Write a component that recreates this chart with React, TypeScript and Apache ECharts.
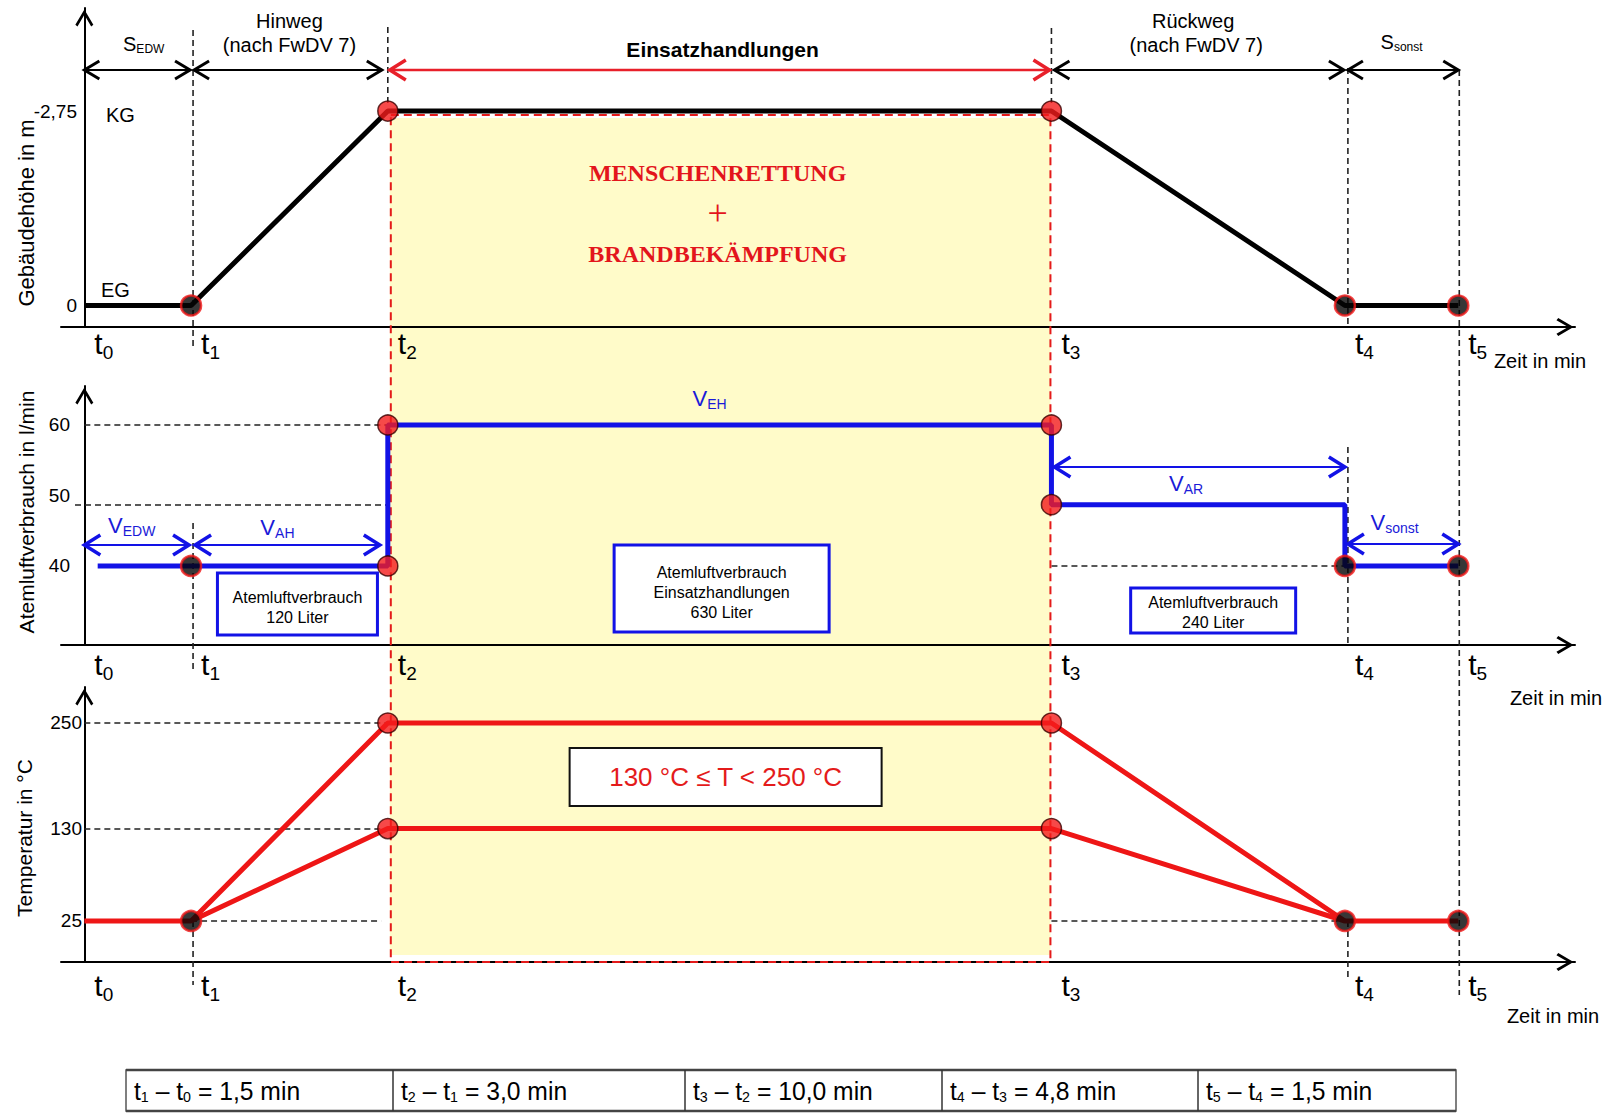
import React, { useEffect, useRef } from 'react';
import * as echarts from 'echarts';

// ---------------- data ----------------
const timeIndices = [0, 1, 2, 3, 4, 5];
const timePoints = [0, 1.6, 4.55, 14.5, 18.9, 20.6];
const dotKinds = ['none', 'black', 'red', 'red', 'black', 'black'];

const heightLevels = [0, 0, -2.75, -2.75, 0, 0];
const heightTicks = [-2.75, 0];

const airStart = 0.2;
const airPhaseLevels = [40, 40, 60, 48.7, 40];
const airPhaseNames = ['EDW', 'AH', 'EH', 'AR', 'sonst'];
const airTicks = [40, 50, 60];
const airDots = [[1, 40], [2, 40], [2, 60], [3, 60], [3, 48.7], [4, 40], [5, 40]];
const airVolumes = ['120', '630', '240'];

const tempUpper = [25, 25, 250, 250, 25, 25];
const tempLower = [25, 25, 130, 130, 25, 25];
const tempTicks = [25, 130, 250];

const durationTexts = ['1,5', '3,0', '10,0', '4,8', '1,5'];

// ---------------- styling ----------------
const W = 1613;
const H = 1113;
const FONT = "'Liberation Sans', Arial, Helvetica, sans-serif";
const SERIF = "'Liberation Serif', 'Times New Roman', serif";
const RED = '#EE1616';
const BLUE = '#1212E6';
const YELLOW = '#FFFBC9';
const ARROW = 'path://M10,0 L20,17 L17.6,19 L10,6 L2.4,19 L0,17 Z';

const X_MIN = -0.35;
const X_MAX = 22.35;
const grids = [
  { left: 61, top: 8, width: 1514, height: 319 },
  { left: 61, top: 386, width: 1514, height: 259 },
  { left: 61, top: 687, width: 1514, height: 275 },
];
const yRanges = [
  { min: -4.207, max: 0.304, inverse: true },
  { min: 28.79, max: 65.53, inverse: false },
  { min: -21.6, max: 290.9, inverse: false },
];
const yTicks = [heightTicks, airTicks, tempTicks];
const yLabelMargins = [-16, -9, -21];

const dotStyle = (kind: string) =>
  kind === 'red'
    ? { color: '#F41C1C', borderColor: '#3A0000', borderWidth: 1.5 }
    : { color: '#050505', borderColor: '#F01818', borderWidth: 2.5 };

function buildOption(): any {
  const xAxis = grids.map((_, i) => ({
    type: 'value',
    gridIndex: i,
    min: X_MIN,
    max: X_MAX,
    axisLine: {
      show: true,
      onZero: false,
      lineStyle: { color: '#000', width: 2 },
      symbol: ['none', ARROW],
      symbolSize: [18, 20],
      symbolOffset: [0, -10],
    },
    axisTick: { show: false },
    axisLabel: { show: false },
    splitLine: { show: false },
  }));
  const yAxis = grids.map((_, i) => ({
    type: 'value',
    gridIndex: i,
    min: yRanges[i].min,
    max: yRanges[i].max,
    inverse: yRanges[i].inverse,
    axisLine: {
      show: true,
      onZero: true,
      lineStyle: { color: '#000', width: 2 },
      symbol: ['none', ARROW],
      symbolSize: [18, 20],
      symbolOffset: [0, -10],
    },
    axisTick: { show: false },
    axisLabel: {
      show: true,
      customValues: yTicks[i],
      formatter: (v: number) => String(v).replace('.', ','),
      color: '#000',
      fontSize: 19,
      fontFamily: FONT,
      margin: yLabelMargins[i],
    },
    splitLine: { show: false },
  }));

  const T = timePoints;
  // top panel
  const heightLine = T.map((t, i) => [t, heightLevels[i]]);
  const heightDots = timeIndices
    .filter((i) => dotKinds[i] !== 'none')
    .map((i) => ({ value: [T[i], heightLevels[i]], itemStyle: dotStyle(dotKinds[i]) }));

  // middle panel (step profile)
  const airLine: number[][] = [[airStart, airPhaseLevels[0]]];
  airPhaseLevels.forEach((lv, p) => {
    airLine.push([T[p + 1], lv]);
    if (p + 1 < airPhaseLevels.length) airLine.push([T[p + 1], airPhaseLevels[p + 1]]);
  });
  const airDotData = airDots.map(([k, v]) => ({ value: [T[k], v], itemStyle: dotStyle(dotKinds[k]) }));

  // bottom panel
  const upperLine = T.map((t, i) => [t, tempUpper[i]]);
  const lowerLine = [1, 2, 3, 4].map((i) => [T[i], tempLower[i]]);
  const tempDotData: any[] = [];
  timeIndices.forEach((i) => {
    if (dotKinds[i] === 'none') return;
    tempDotData.push({ value: [T[i], tempUpper[i]], itemStyle: dotStyle(dotKinds[i]) });
    if (tempLower[i] !== tempUpper[i])
      tempDotData.push({ value: [T[i], tempLower[i]], itemStyle: dotStyle(dotKinds[i]) });
  });

  const guide = (g: number, segs: number[][][]) => ({
    type: 'lines',
    coordinateSystem: 'cartesian2d',
    xAxisIndex: g,
    yAxisIndex: g,
    silent: true,
    z: 1,
    lineStyle: { color: '#222', width: 1.6, type: [6, 4], opacity: 1 },
    data: segs.map((c) => ({ coords: c })),
  });

  const lineS = (g: number, data: any[], color: string) => ({
    type: 'line',
    xAxisIndex: g,
    yAxisIndex: g,
    data,
    showSymbol: false,
    symbol: 'none',
    lineStyle: { color, width: 5 },
    silent: true,
    z: 2,
  });
  const dotS = (g: number, data: any[]) => ({
    type: 'scatter',
    xAxisIndex: g,
    yAxisIndex: g,
    data,
    symbol: 'circle',
    symbolSize: 20,
    silent: true,
    z: 4,
  });

  return {
    animation: false,
    backgroundColor: '#ffffff',
    grid: grids.map((g) => ({ ...g, containLabel: false })),
    xAxis,
    yAxis,
    series: [
      lineS(0, heightLine, '#000'),
      dotS(0, heightDots),
      guide(1, [
        [[0, airPhaseLevels[2]], [T[2], airPhaseLevels[2]]],
        [[-0.14, airPhaseLevels[3]], [T[2], airPhaseLevels[3]]],
        [[T[3], airPhaseLevels[4]], [T[4], airPhaseLevels[4]]],
      ]),
      lineS(1, airLine, BLUE),
      dotS(1, airDotData),
      guide(2, [
        [[0, tempUpper[2]], [T[2], tempUpper[2]]],
        [[0, tempLower[2]], [T[2], tempLower[2]]],
        [[T[1], tempUpper[1]], [T[2] - 0.1, tempUpper[1]]],
        [[T[3], tempUpper[4]], [T[4], tempUpper[4]]],
      ]),
      lineS(2, upperLine, RED),
      lineS(2, lowerLine, RED),
      dotS(2, tempDotData),
    ],
  };
}

// ---------------- graphics helpers ----------------
let measureCtx: CanvasRenderingContext2D | null = null;
function measure(text: string, size: number, family = FONT, weight = 'normal') {
  if (!measureCtx) measureCtx = document.createElement('canvas').getContext('2d');
  measureCtx!.font = `${weight} ${size}px ${family}`;
  return measureCtx!.measureText(text).width;
}

function textStyle(text: string, size: number, color: string, align: string, family = FONT, weight = 'normal') {
  return {
    text,
    fontSize: size,
    fontFamily: family,
    fontWeight: weight,
    fill: color,
    align,
    verticalAlign: 'middle',
    textAlign: align,
    textVerticalAlign: 'middle',
  };
}

function txt(x: number, y: number, text: string, size: number, o: any = {}) {
  return {
    type: 'text',
    x,
    y,
    rotation: o.rotation || 0,
    scaleX: o.scaleX ?? 1,
    z: o.z ?? 6,
    silent: true,
    style: textStyle(text, size, o.color || '#000', o.align || 'center', o.family || FONT, o.weight || 'normal'),
  };
}

type Part = [string, boolean];
function richLabel(x: number, y: number, parts: Part[], size: number, subSize: number, subDy: number, color: string, align = 'center', scaleX = 1) {
  const children: any[] = [];
  let cx = 0;
  parts.forEach(([text, sub]) => {
    const fs = sub ? subSize : size;
    children.push({ type: 'text', x: cx, y: sub ? subDy : 0, z: 6, silent: true, style: textStyle(text, fs, color, 'left') });
    cx += measure(text, fs);
  });
  const shift = align === 'center' ? -cx / 2 : 0;
  children.forEach((c) => (c.x += shift));
  return { type: 'group', x, y, scaleX, children, silent: true };
}

function dblArrow(x1: number, x2: number, y: number, color: string, lw: number, head: number, half: number, hw: number) {
  return [
    { type: 'line', z: 5, silent: true, shape: { x1, y1: y, x2, y2: y }, style: { stroke: color, lineWidth: lw } },
    {
      type: 'polyline', z: 5, silent: true,
      shape: { points: [[x1 + head, y - half], [x1, y], [x1 + head, y + half]] },
      style: { stroke: color, lineWidth: hw, fill: 'none', lineJoin: 'miter' },
    },
    {
      type: 'polyline', z: 5, silent: true,
      shape: { points: [[x2 - head, y - half], [x2, y], [x2 - head, y + half]] },
      style: { stroke: color, lineWidth: hw, fill: 'none', lineJoin: 'miter' },
    },
  ];
}

function box(cx: number, y1: number, y2: number, w: number, stroke: string, lw: number) {
  return {
    type: 'rect', z: 6, silent: true,
    shape: { x: cx - w / 2, y: y1, width: w, height: y2 - y1 },
    style: { fill: '#fff', stroke, lineWidth: lw },
  };
}

function buildGraphics(chart: any): any[] {
  const X = timePoints.map((t) => chart.convertToPixel({ gridIndex: 0 }, [t, 0])[0]);
  const Ytop = (v: number) => chart.convertToPixel({ gridIndex: 0 }, [0, v])[1];
  const mid = (a: number, b: number) => (X[a] + X[b]) / 2;
  const els: any[] = [];

  // Einsatz region
  els.push({
    type: 'rect', z: -10, silent: true,
    shape: { x: X[2] + 2, y: 118, width: X[3] - X[2] - 3, height: 955 - 118 },
    style: { fill: YELLOW },
  });
  els.push({
    type: 'rect', z: 1, silent: true,
    shape: { x: X[2] + 3, y: 115, width: X[3] - X[2] - 4, height: 962 - 115 },
    style: { fill: 'none', stroke: '#E41A1A', lineWidth: 2, lineDash: [8, 5] },
  });

  // vertical dashed helpers [timeIndex, y1, y2]
  const vDash = [
    [1, 30, 347], [1, 523, 673], [1, 921, 985],
    [2, 27, 103], [3, 28, 103],
    [4, 68, 327], [4, 447, 645], [4, 921, 978],
    [5, 70, 995],
  ];
  const vOff = [0, 2, 0, 0, 3, 1];
  vDash.forEach(([k, y1, y2]) => {
    const x = X[k] + vOff[k];
    els.push({
      type: 'line', z: 1, silent: true,
      shape: { x1: x, y1, x2: x, y2 },
      style: { stroke: '#222', lineWidth: 1.6, lineDash: [6, 4] },
    });
  });

  // top arrows
  const ay = 70;
  els.push(...dblArrow(X[0], X[1] - 1, ay, '#000', 2, 15, 9, 3));
  els.push(...dblArrow(X[1] + 3, X[2] - 6, ay, '#000', 2, 15, 9, 3));
  els.push(...dblArrow(X[2] + 2, X[3] - 2, ay, '#E8202A', 2.5, 16, 10, 3.5));
  els.push(...dblArrow(X[3] + 3, X[4] - 1, ay, '#000', 2, 15, 9, 3));
  els.push(...dblArrow(X[4] + 3, X[5], ay, '#000', 2, 15, 9, 3));

  els.push(richLabel(mid(0, 1) + 6, 44, [['S', false], ['EDW', true]], 20, 12, 5, '#000'));
  els.push(txt(mid(1, 2), 21, 'Hinweg', 20));
  els.push(txt(mid(1, 2), 45, '(nach FwDV 7)', 20));
  els.push(txt(mid(2, 3) + 3, 49, 'Einsatzhandlungen', 21, { weight: 'bold' }));
  els.push(txt(mid(3, 4) - 5, 21, 'Rückweg', 20));
  els.push(txt(mid(3, 4) - 2, 45, '(nach FwDV 7)', 20));
  els.push(richLabel(mid(4, 5), 42, [['S', false], ['sonst', true]], 20, 12, 5, '#000'));

  els.push(txt(X[0] + 36, Ytop(heightLevels[2]) + 4, 'KG', 20));
  els.push(txt(X[0] + 31, Ytop(heightLevels[0]) - 16, 'EG', 20));

  els.push(txt(mid(2, 3) - 2, 173, 'MENSCHENRETTUNG', 24, { family: SERIF, weight: 'bold', color: '#E3151C' }));
  els.push(txt(mid(2, 3) - 2, 213, '+', 36, { family: SERIF, color: '#E3151C' }));
  els.push(txt(mid(2, 3) - 2, 254, 'BRANDBEKÄMPFUNG', 24, { family: SERIF, weight: 'bold', color: '#E3151C' }));

  // axis titles
  els.push(txt(26, 213, 'Gebäudehöhe in m', 22, { rotation: Math.PI / 2 }));
  els.push(txt(26, 512, 'Atemluftverbrauch in l/min', 21, { rotation: Math.PI / 2 }));
  els.push(txt(24, 838, 'Temperatur in °C', 21, { rotation: Math.PI / 2 }));
  els.push(txt(1540, 361, 'Zeit in min', 20));
  els.push(txt(1556, 698, 'Zeit in min', 20));
  els.push(txt(1553, 1016, 'Zeit in min', 20));

  // t labels
  const tRowY = [343, 664, 985];
  tRowY.forEach((y) => {
    timeIndices.forEach((k) => {
      els.push(richLabel(X[k] + 10, y, [['t', false], [String(k), true]], 30, 19, 9, '#000', 'left'));
    });
  });

  // middle annotations
  const vy1 = 545;
  els.push(...dblArrow(X[0], X[1] - 2, vy1, BLUE, 2, 16, 10, 3.5));
  els.push(...dblArrow(X[1] + 4, X[2] - 8, vy1, BLUE, 2, 16, 10, 3.5));
  els.push(...dblArrow(X[3] + 3, X[4], 467, BLUE, 2, 16, 10, 3.5));
  els.push(...dblArrow(X[4] + 3, X[5], 544, BLUE, 2, 16, 10, 3.5));
  const vLabelPos = [
    [mid(0, 1) - 6, 525], [mid(1, 2) - 12, 527], [mid(2, 3) - 10, 398], [mid(3, 4) - 12, 483], [mid(4, 5) - 7, 522],
  ];
  airPhaseNames.forEach((n, i) => {
    els.push(richLabel(vLabelPos[i][0], vLabelPos[i][1], [['V', false], [n, true]], 22, 14, 6, '#1A1AD8'));
  });

  els.push(box(mid(1, 2) + 8, 573, 635, 160, BLUE, 3));
  els.push(txt(mid(1, 2) + 8, 597, 'Atemluftverbrauch', 16));
  els.push(txt(mid(1, 2) + 8, 617, `${airVolumes[0]} Liter`, 16));
  els.push(box(mid(2, 3) + 2, 545, 632, 215, BLUE, 3));
  els.push(txt(mid(2, 3) + 2, 572, 'Atemluftverbrauch', 16));
  els.push(txt(mid(2, 3) + 2, 592, 'Einsatzhandlungen', 16));
  els.push(txt(mid(2, 3) + 2, 612, `${airVolumes[1]} Liter`, 16));
  els.push(box(mid(3, 4) + 15, 588, 633, 165, BLUE, 3));
  els.push(txt(mid(3, 4) + 15, 602, 'Atemluftverbrauch', 16));
  els.push(txt(mid(3, 4) + 15, 622, `${airVolumes[2]} Liter`, 16));

  // temperature range box
  els.push(box(mid(2, 3) + 6, 748, 806, 312, '#111', 2));
  els.push(txt(mid(2, 3) + 6, 777, `${tempLower[2]} °C ≤ T < ${tempUpper[2]} °C`, 26, { color: '#E41B1B' }));

  // duration table
  const tableX = [126, 393, 685, 942, 1198, 1456];
  const ty1 = 1070;
  const ty2 = 1111;
  els.push({
    type: 'rect', z: 5, silent: true,
    shape: { x: tableX[0], y: ty1, width: tableX[5] - tableX[0], height: ty2 - ty1 },
    style: { fill: '#fff', stroke: '#555', lineWidth: 1.5 },
  });
  els.push({ type: 'line', z: 6, silent: true, shape: { x1: tableX[0], y1: ty1, x2: tableX[5], y2: ty1 }, style: { stroke: '#444', lineWidth: 2.5 } });
  els.push({ type: 'line', z: 6, silent: true, shape: { x1: tableX[0], y1: ty2, x2: tableX[5], y2: ty2 }, style: { stroke: '#444', lineWidth: 2.5 } });
  for (let i = 1; i < 5; i++) {
    els.push({ type: 'line', z: 6, silent: true, shape: { x1: tableX[i], y1: ty1, x2: tableX[i], y2: ty2 }, style: { stroke: '#333', lineWidth: 1.5 } });
  }
  durationTexts.forEach((d, i) => {
    els.push(
      richLabel(tableX[i] + 8, (ty1 + ty2) / 2, [
        ['t', false], [String(i + 1), true], [' – t', false], [String(i), true], [` = ${d} min`, false],
      ], 26, 15, 6, '#000', 'left', 0.95),
    );
  });

  return els;
}

export default function App() {
  const ref = useRef<HTMLDivElement>(null);
  useEffect(() => {
    const el = ref.current!;
    const chart = echarts.init(el, undefined, { renderer: 'svg', width: W, height: H });
    chart.setOption(buildOption());
    chart.setOption({ graphic: { elements: buildGraphics(chart) } });
    return () => chart.dispose();
  }, []);
  return (
    <div
      ref={ref}
      style={{ position: 'fixed', left: 0, top: 0, width: W, height: H, background: '#fff' }}
    />
  );
}
